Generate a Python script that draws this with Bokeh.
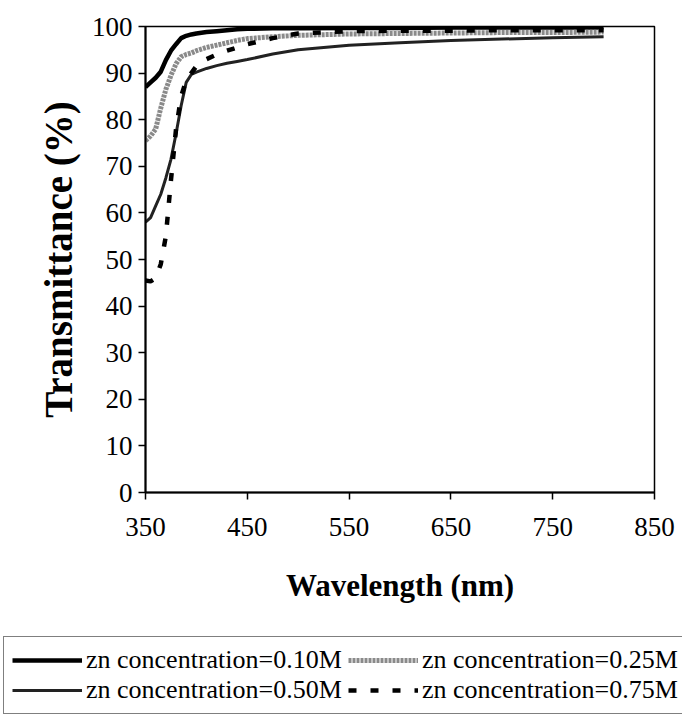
from bokeh.plotting import figure
from bokeh.models import Legend, LegendItem, FixedTicker, Range1d
from bokeh.embed import file_html
from bokeh.resources import INLINE

wavelength = [350, 355, 360, 365, 370, 375, 380, 385, 390, 395, 400, 410, 420,
              430, 440, 450, 475, 500, 550, 600, 650, 700, 750, 800]

t_010 = [87.0, 88.0, 89.0, 90.3, 92.8, 94.8, 96.2, 97.5, 98.0, 98.3, 98.5, 98.8, 99.0,
         99.2, 99.4, 99.5, 99.6, 99.6, 99.7, 99.7, 99.8, 99.8, 99.8, 99.8]
t_025 = [75.5, 76.5, 78.0, 82.5, 86.5, 89.5, 92.0, 93.5, 94.0, 94.3, 94.8, 95.5, 96.0,
         96.5, 97.0, 97.4, 97.8, 98.1, 98.4, 98.5, 98.6, 98.7, 98.7, 98.8]
t_050 = [58.0, 59.0, 61.5, 64.0, 67.5, 71.5, 77.0, 83.0, 88.0, 89.7, 90.2, 91.0, 91.6,
         92.1, 92.5, 92.9, 94.1, 95.0, 96.0, 96.5, 97.0, 97.3, 97.6, 97.8]
t_075 = [45.5, 45.3, 46.0, 49.0, 55.0, 67.0, 78.0, 85.0, 88.5, 90.0, 91.5, 93.0, 94.0,
         94.8, 95.5, 96.2, 97.5, 98.5, 99.0, 99.1, 99.1, 99.2, 99.2, 99.2]

labels = ["zn concentration=0.10M", "zn concentration=0.25M",
          "zn concentration=0.50M", "zn concentration=0.75M"]
x_ticks = [350, 450, 550, 650, 750, 850]
y_ticks = [0, 10, 20, 30, 40, 50, 60, 70, 80, 90, 100]

SERIF = "Liberation Serif"
styles = [dict(line_color="black", line_width=4.5),
          dict(line_color="#8a8a8a", line_width=5, line_dash="3 1"),
          dict(line_color="#222222", line_width=3),
          dict(line_color="black", line_width=4.5, line_dash="8 14")]
series = [t_010, t_025, t_050, t_075]

p = figure(width=682, height=622, output_backend="svg", toolbar_location=None,
           x_range=Range1d(350, 850), y_range=Range1d(0, 100),
           min_border_left=145, min_border_right=28, min_border_top=26,
           min_border_bottom=130)
p.xgrid.visible = False
p.ygrid.visible = False
p.outline_line_color = "black"
p.outline_line_width = 1.5

for s, st in zip(series, styles):
    p.line(wavelength, s, **st)

for ax in (p.xaxis[0], p.yaxis[0]):
    ax.axis_line_width = 2
    ax.axis_line_color = "black"
    ax.major_tick_line_width = 1.5
    ax.major_tick_out = 7
    ax.major_tick_in = 0
    ax.minor_tick_out = 0
    ax.minor_tick_in = 0
    ax.major_label_text_font = SERIF
    ax.major_label_text_font_size = "27px"
    ax.major_label_text_color = "black"
    ax.axis_label_text_font = SERIF
    ax.axis_label_text_font_style = "bold"
    ax.axis_label_text_color = "black"

p.xaxis[0].axis_label_text_font_size = "31px"
p.yaxis[0].axis_label_text_font_size = "39px"
p.xaxis[0].ticker = FixedTicker(ticks=x_ticks)
p.yaxis[0].ticker = FixedTicker(ticks=y_ticks)
p.xaxis[0].axis_label = "Wavelength (nm)"
p.yaxis[0].axis_label = "Transmittance (%)"
p.xaxis[0].major_label_standoff = 18
p.xaxis[0].axis_label_standoff = 29
p.yaxis[0].major_label_standoff = 6
p.yaxis[0].axis_label_standoff = 9

# legend panel: same series drawn out of view so only the legend shows
q = figure(width=682, height=98, output_backend="svg", toolbar_location=None,
           x_range=Range1d(0, 1), y_range=Range1d(0, 1),
           min_border_left=0, min_border_right=0, min_border_top=0,
           min_border_bottom=0)
q.xaxis.visible = False
q.yaxis.visible = False
q.xgrid.visible = False
q.ygrid.visible = False
q.outline_line_color = None
rs = [q.line(wavelength, s, **st) for s, st in zip(series, styles)]

order = [0, 2, 1, 3]  # column-major fill -> rows read 0.10 | 0.25, 0.50 | 0.75
legend = Legend(items=[LegendItem(label=labels[i], renderers=[rs[i]]) for i in order],
                ncols=2, location=(3, 6))
legend.label_text_font = SERIF
legend.label_text_font_size = "26px"
legend.label_text_color = "black"
legend.glyph_width = 70
legend.glyph_height = 26
legend.label_height = 26
legend.label_width = 262
legend.label_standoff = 4
legend.spacing = 0
legend.padding = 8
legend.margin = 0
legend.border_line_color = "black"
legend.border_line_width = 1.5
legend.background_fill_alpha = 1
q.add_layout(legend, "center")

open("out.html", "w").write(file_html([p, q], INLINE))
